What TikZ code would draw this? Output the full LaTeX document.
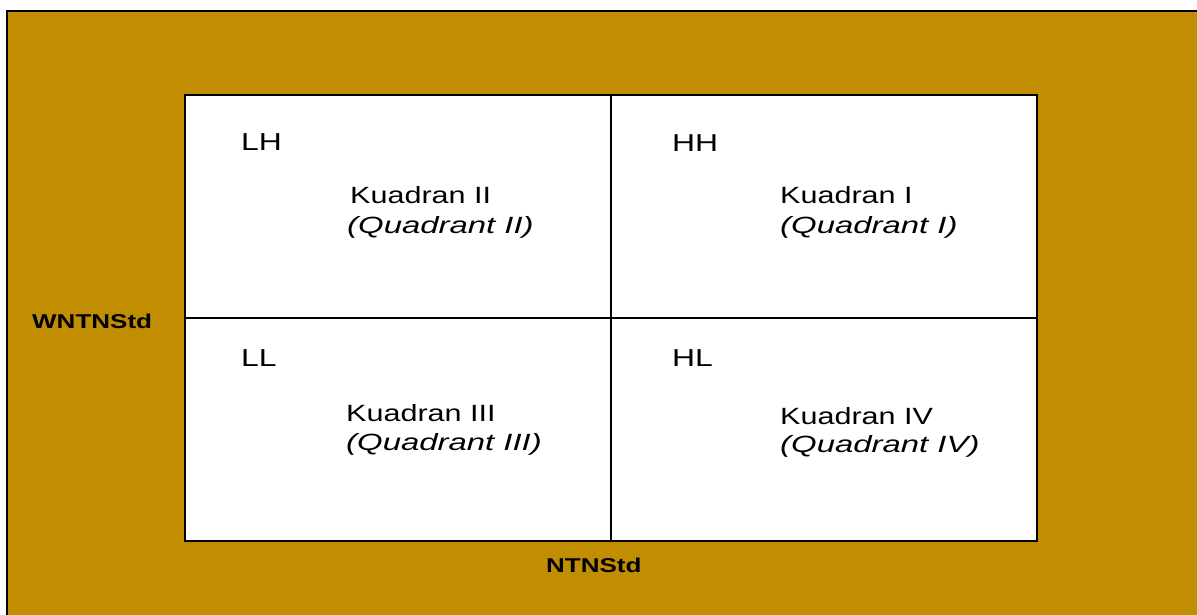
\documentclass[tikz,border=0pt]{standalone}
\usepackage{fontspec}
\setmainfont[FakeStretch=1.3]{Liberation Sans}
\newfontfamily\widefam[FakeStretch=1.4]{Liberation Sans}
\definecolor{gold}{RGB}{192,142,0}
\tikzset{
  cellline/.style={line width=2pt, draw=black},
  code/.style={font=\fontsize{24.5}{28}\selectfont, anchor=base west, inner sep=0pt},
  quad/.style={font=\fontsize{23.5}{28}\selectfont, anchor=base west, inner sep=0pt},
  quadit/.style={quad, font=\widefam\itshape\fontsize{23.5}{28}\selectfont},
  axis/.style={font=\bfseries\fontsize{20}{22}\selectfont, anchor=base west, inner sep=0pt}
}
\begin{document}
\begin{tikzpicture}[x=1pt,y=-1pt]
\useasboundingbox (0,0) rectangle (1197,615);
% backdrop panel with its left and top edge
\fill[gold] (7,11) rectangle (1197,615);
\draw[line width=2.5pt] (7,615) -- (7,11) -- (1197,11);
% the 2x2 matrix
\fill[white] (185,95) rectangle (1037,541);
\draw[cellline] (185,95) rectangle (1037,541);
\coordinate (top) at (611,95);
\coordinate (bot) at (611,541);
\coordinate (lft) at (185,318);
\coordinate (rgt) at (1037,318);
\draw[cellline] (top) -- (bot);
\draw[cellline] (lft) -- (rgt);
% cell codes
\node[code] (lh) at (241,150) {LH};
\node[code] (hh) at (672,152) {HH};
\node[code] (ll) at (241,366) {LL};
\node[code] (hl) at (672,366) {HL};
% quadrant names
\node[quad] (q2a) at (350,204) {Kuadran II};
\node[quadit] (q2b) at (347,233) {(Quadrant II)};
\node[quad] (q1a) at (780,204) {Kuadran I};
\node[quadit] (q1b) at (780,233) {(Quadrant I)};
\node[quad] (q3a) at (346,421) {Kuadran III};
\node[quadit] (q3b) at (346,450) {(Quadrant III)};
\node[quad] (q4a) at (780,424) {Kuadran IV};
\node[quadit] (q4b) at (780,452) {(Quadrant IV)};
% axis names
\node[axis] (yax) at (32,328) {WNTNStd};
\node[axis] (xax) at (546,572.5) {NTNStd};
\end{tikzpicture}
\end{document}
